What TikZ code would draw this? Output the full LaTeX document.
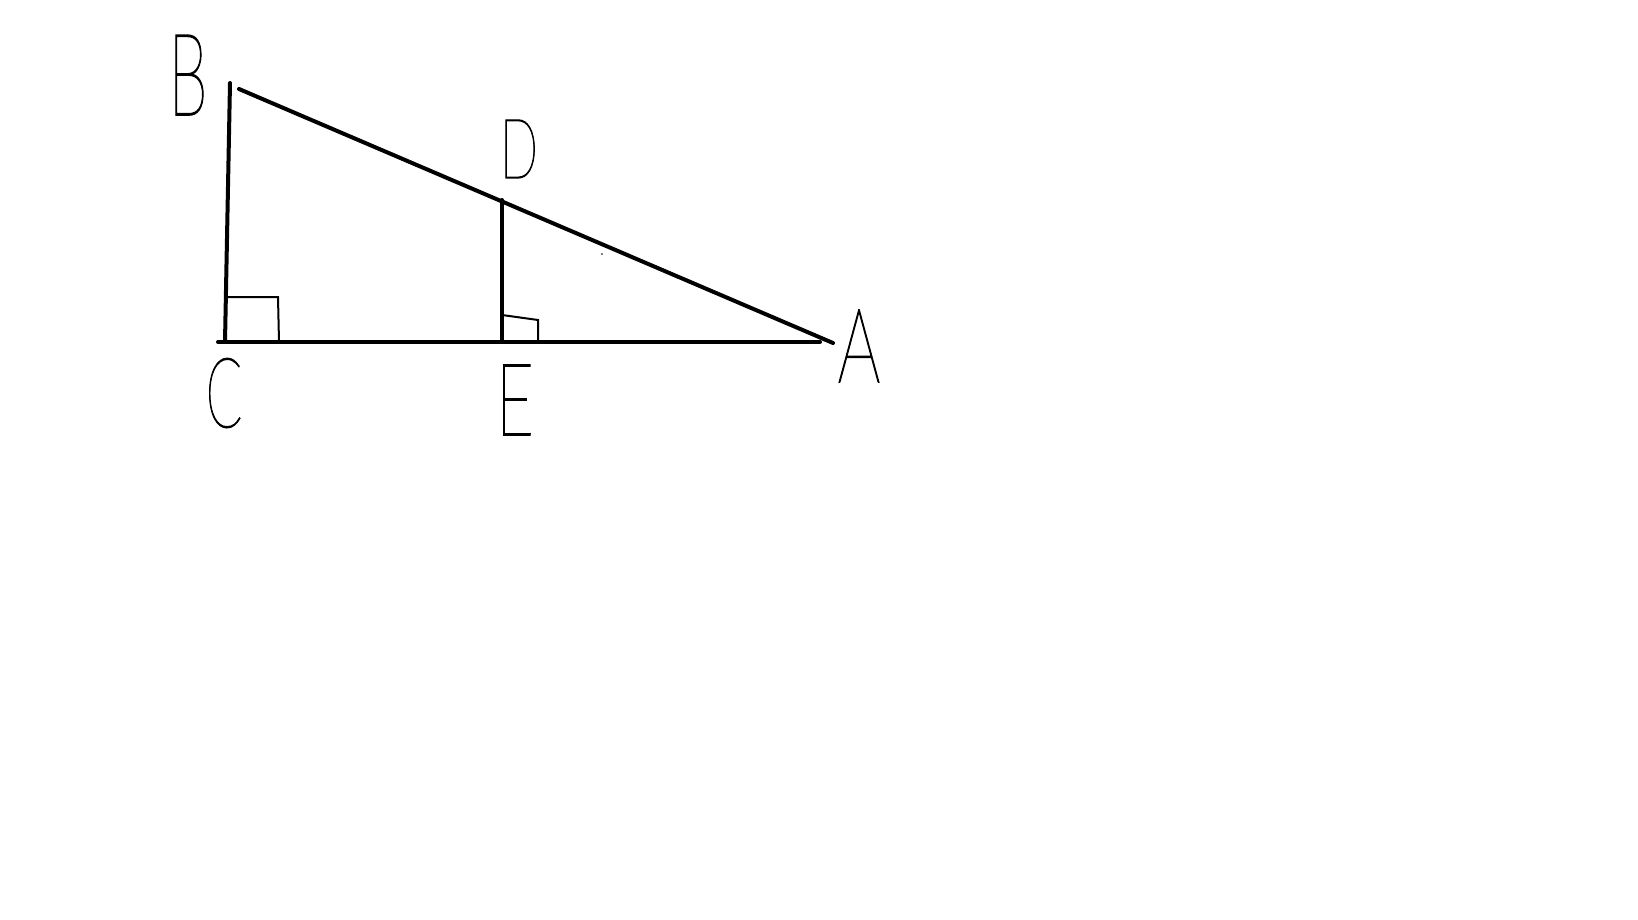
\documentclass[tikz,border=0pt]{standalone}
\usepackage{fontspec}
\newfontfamily\hand{Lato Thin}[FakeBold=1.5]
\begin{document}
\begin{tikzpicture}[x=1pt,y=-1pt,
  seg/.style={line width=4pt,line cap=round},
  ramark/.style={line width=2pt},
  lbl/.style={inner sep=0pt,anchor=base,font=\hand}]
\useasboundingbox[fill=white] (0,0) rectangle (1638,920);
% points
\coordinate (Bt) at (230,83);
\coordinate (C) at (225,342);
\coordinate (Cl) at (218,342);
\coordinate (Bh) at (239,89);
\coordinate (A) at (833,343);
\coordinate (Ab) at (820,342);
\coordinate (D) at (502,200);
\coordinate (E) at (502,342);
% lines
\draw[seg] (Bt) -- (C);
\draw[seg] (Cl) -- (Ab);
\draw[seg] (Bh) -- (A);
\draw[seg] (D) -- (E);
% right angle marks
\draw[ramark] (227,297) -- (278,297) -- (279,342);
\draw[ramark] (502,315) -- (538,320) -- (538,342);
% stray dot
\fill[gray] (601,253) rectangle (603,255);
% labels
\node[lbl,xscale=0.55] (lB) at (188,115) {\fontsize{114}{114}\selectfont B};
\node[lbl,xscale=0.6] (lD) at (519,178) {\fontsize{83}{83}\selectfont D};
\node[lbl,xscale=0.55] (lC) at (224,427) {\fontsize{97}{97}\selectfont C};
\node[lbl,xscale=0.65] (lE) at (515,435) {\fontsize{100}{100}\selectfont E};
\node[lbl,xscale=0.65] (lA) at (859,382) {\fontsize{103}{103}\selectfont A};
\end{tikzpicture}
\end{document}
